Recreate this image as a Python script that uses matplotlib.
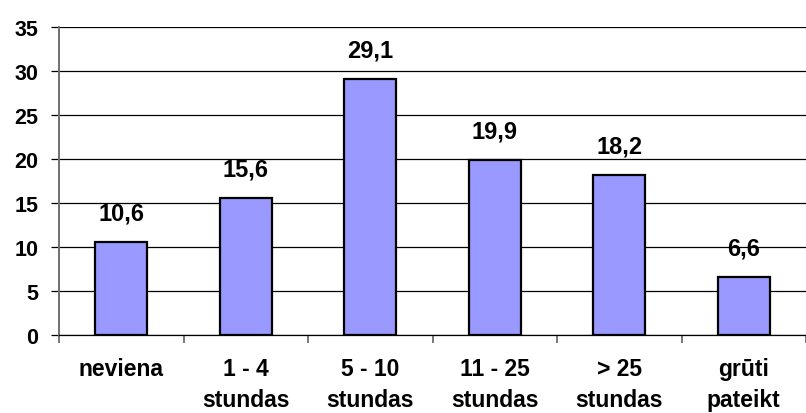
import matplotlib
matplotlib.use("Agg")
import matplotlib.pyplot as plt
import numpy as np

categories = ["neviena", "1 - 4\nstundas", "5 - 10\nstundas", "11 - 25\nstundas",
              "> 25\nstundas", "grūti\npateikt"]
values = [10.6, 15.6, 29.1, 19.9, 18.2, 6.6]
value_labels = ["10,6", "15,6", "29,1", "19,9", "18,2", "6,6"]
y_ticks = [0, 5, 10, 15, 20, 25, 30, 35]

plt.rcParams["font.family"] = ["Liberation Sans", "DejaVu Sans"]
plt.rcParams["font.weight"] = "bold"

fig = plt.figure(figsize=(8.06, 4.14), dpi=100)
ax = fig.add_axes([59 / 806, 1 - 336 / 414, 1 - 59 / 806, (336 - 28) / 414])

x = np.arange(len(categories))
ax.set_axisbelow(True)
ax.yaxis.grid(True, color="black", linewidth=0.9)
ax.bar(x, values, width=0.42, color="#9999FF", edgecolor="black", linewidth=1.6, zorder=3)

for xi, v, lab in zip(x, values, value_labels):
    ax.annotate(lab, (xi, v), xytext=(0, 16), textcoords="offset points",
                ha="center", va="baseline", fontsize=17, fontweight="bold")

ax.set_xlim(-0.5, len(categories) - 0.5)
ax.set_ylim(0, 35)
ax.set_yticks(y_ticks)
ax.set_yticklabels([str(t) for t in y_ticks], fontsize=15.5, fontweight="bold")
ax.set_xticks(x)
ax.set_xticklabels(categories, fontsize=16.5, fontweight="bold", linespacing=1.45)
ax.set_xticks(np.arange(-0.5, len(categories), 1.0), minor=True)
ax.tick_params(axis="x", which="major", length=0, pad=16)
ax.tick_params(axis="x", which="minor", length=6, width=1.2, color="#606060", direction="out")
ax.tick_params(axis="y", length=6, width=0.9, color="black", pad=9)

for side in ["top", "right"]:
    ax.spines[side].set_visible(False)
ax.spines["left"].set_color("#707070")
ax.spines["left"].set_linewidth(1.4)
ax.spines["bottom"].set_color("black")
ax.spines["bottom"].set_linewidth(0.9)

fig.savefig("out.png", dpi=100)
